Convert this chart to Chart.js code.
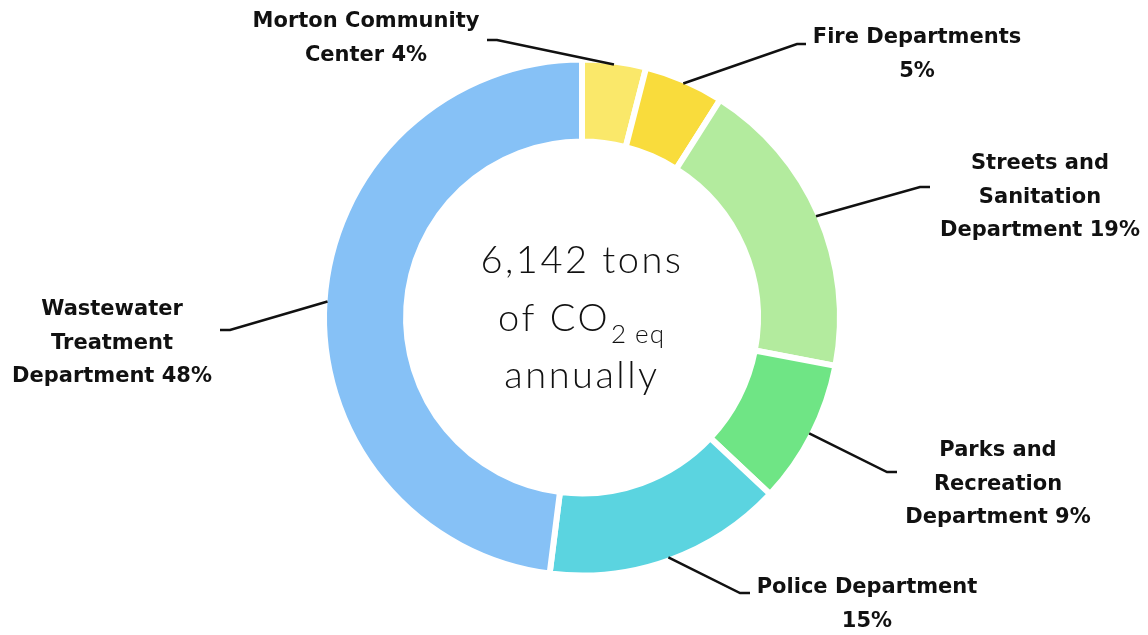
<!DOCTYPE html>
<html>
<head>
<meta charset="utf-8">
<script src="https://cdn.jsdelivr.net/npm/chart.js@4.4.0/dist/chart.umd.min.js"></script>
<style>
  html, body { margin: 0; padding: 0; background: #fff; }
  #wrap { width: 1148px; height: 635px; }
</style>
</head>
<body>
<div id="wrap"><canvas id="co2Chart"></canvas></div>
<script>
// 부서 이름 (줄바꿈 포함)
const labelLines = [
    ['Morton Community', 'Center'],
    ['Fire Departments', ''],
    ['Streets and', 'Sanitation', 'Department'],
    ['Parks and', 'Recreation', 'Department'],
    ['Police Department', ''],
    ['Wastewater', 'Treatment', 'Department']
];

// 배출 비율 (%)
const shares = [4, 5, 19, 9, 15, 48];

// 색상
const sliceColors = ['#fae86a', '#f9dc3c', '#b3eb9e', '#6fe585', '#5bd4e0', '#86c1f6'];

// 가운데 텍스트
const centerLines = ['6,142 tons', 'of CO', 'annually'];

// 라벨 위치: 지시선 꺾이는 점, 끝점, 텍스트 중심
const labelLayout = [
    { elbow: [497, 40], end: 487, tx: 366, ty: 22 },
    { elbow: [797, 44], end: 806, tx: 917, ty: 38 },
    { elbow: [920, 187], end: 930, tx: 1040, ty: 164 },
    { elbow: [887, 472], end: 897, tx: 998, ty: 451 },
    { elbow: [740, 593], end: 750, tx: 867, ty: 588 },
    { elbow: [230, 330], end: 220, tx: 112, ty: 310 }
];

const labelFont = 'bold 21px "DejaVu Sans", sans-serif';
const lineGap = 33.5;
const bigFont = '300 38px Lato, "Noto Sans", sans-serif';
const subFont = '300 26px Lato, "Noto Sans", sans-serif';

// 라벨과 지시선 그리기
const calloutPlugin = {
    id: 'callouts',
    afterDatasetsDraw(chart) {
        const ctx = chart.ctx;
        const arcs = chart.getDatasetMeta(0).data;
        ctx.save();
        arcs.forEach((arc, i) => {
            const p = arc.getProps(['x', 'y', 'startAngle', 'endAngle', 'outerRadius'], true);
            const mid = (p.startAngle + p.endAngle) / 2;
            const r = p.outerRadius - 3;
            const sx = p.x + Math.cos(mid) * r;
            const sy = p.y + Math.sin(mid) * r;
            const lay = labelLayout[i];

            ctx.strokeStyle = '#111';
            ctx.lineWidth = 2.5;
            ctx.beginPath();
            ctx.moveTo(sx, sy);
            ctx.lineTo(lay.elbow[0], lay.elbow[1]);
            ctx.lineTo(lay.end, lay.elbow[1]);
            ctx.stroke();

            // 마지막 줄에 퍼센트 붙이기
            const lines = labelLines[i].slice();
            const pct = shares[i] + '%';
            const last = lines.length - 1;
            lines[last] = lines[last] ? lines[last] + ' ' + pct : pct;

            ctx.fillStyle = '#111';
            ctx.font = labelFont;
            ctx.textAlign = 'center';
            ctx.textBaseline = 'middle';
            lines.forEach((t, k) => ctx.fillText(t, lay.tx, lay.ty + k * lineGap));
        });

        // 가운데 텍스트
        const cx = arcs[0].x;
        const cy = arcs[0].y;
        ctx.fillStyle = '#111';
        ctx.textBaseline = 'alphabetic';
        ctx.letterSpacing = '2.5px';
        ctx.font = bigFont;
        ctx.textAlign = 'center';
        ctx.fillText(centerLines[0], cx, cy - 45);
        ctx.fillText(centerLines[2], cx, cy + 70);

        // "of CO" + 아래 첨자 "2 eq"
        const mainW = ctx.measureText(centerLines[1]).width;
        ctx.font = subFont;
        ctx.letterSpacing = '1px';
        const subW = ctx.measureText('2 eq').width;
        const left = cx - (mainW + subW + 2) / 2;
        ctx.textAlign = 'left';
        ctx.letterSpacing = '2.5px';
        ctx.font = bigFont;
        ctx.fillText(centerLines[1], left, cy + 13);
        ctx.letterSpacing = '1px';
        ctx.font = subFont;
        ctx.fillText('2 eq', left + mainW + 1, cy + 25);
        ctx.restore();
    }
};

document.addEventListener('DOMContentLoaded', () => {
    const ctx = document.getElementById('co2Chart').getContext('2d');
    new Chart(ctx, {
        type: 'doughnut',
        data: {
            labels: labelLines.map(l => l.join(' ')),
            datasets: [{
                data: shares,
                backgroundColor: sliceColors,
                borderColor: '#ffffff',
                borderWidth: 6
            }]
        },
        options: {
            responsive: true,
            maintainAspectRatio: false,
            animation: false,
            radius: 258,
            cutout: '68.2%',
            layout: { padding: { left: 16, right: 0, top: 0, bottom: 0 } },
            plugins: {
                legend: { display: false },
                tooltip: { enabled: false }
            }
        },
        plugins: [calloutPlugin]
    });
});
</script>
</body>
</html>
